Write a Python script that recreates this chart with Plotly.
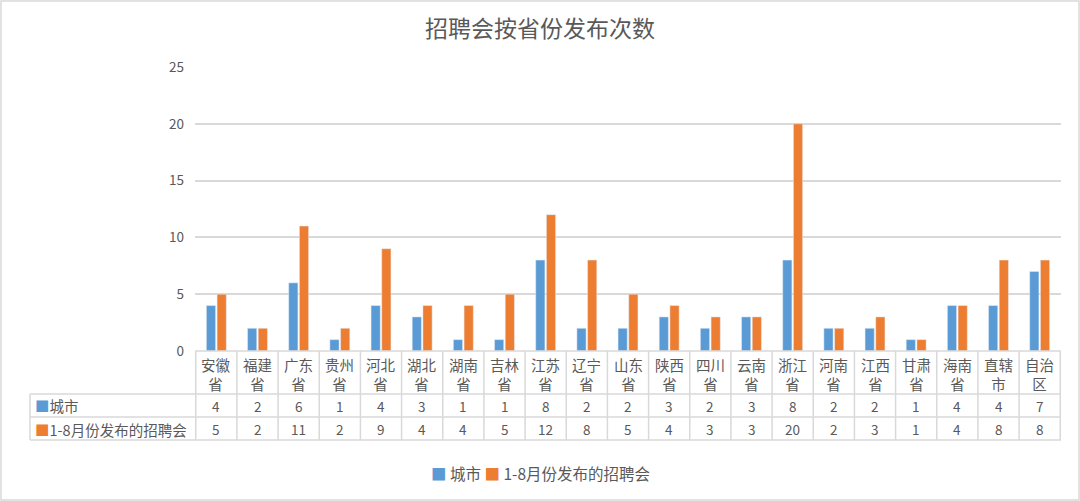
import plotly.graph_objects as go

categories = ["安徽省", "福建省", "广东省", "贵州省", "河北省", "湖北省", "湖南省", "吉林省",
              "江苏省", "辽宁省", "山东省", "陕西省", "四川省", "云南省", "浙江省", "河南省",
              "江西省", "甘肃省", "海南省", "直辖市", "自治区"]
cities = [4, 2, 6, 1, 4, 3, 1, 1, 8, 2, 2, 3, 2, 3, 8, 2, 2, 1, 4, 4, 7]
fairs = [5, 2, 11, 2, 9, 4, 4, 5, 12, 8, 5, 4, 3, 3, 20, 2, 3, 1, 4, 8, 8]
series_names = ["城市", "1-8月份发布的招聘会"]
y_ticks = [0, 5, 10, 15, 20, 25]

BLUE = "#5B9BD5"
ORANGE = "#ED7D31"
TEXT = "#595959"
GRID = "#D9D9D9"
FONT = "Noto Sans CJK SC"

W, H = 1080, 501
px_x = lambda x: x / W
px_y = lambda y: 1 - y / H

x0, x1 = 195, 1061
y_zero, y_top = 351, 67

fig = go.Figure()
fig.add_trace(go.Bar(x=categories, y=cities, name=series_names[0], marker_color=BLUE))
fig.add_trace(go.Bar(x=categories, y=fairs, name=series_names[1], marker_color=ORANGE))

shapes = []
shapes.append(dict(type="rect", xref="paper", yref="paper", x0=px_x(1), x1=px_x(1079),
                   y0=px_y(500), y1=px_y(1), line=dict(color=GRID, width=1.5)))
for yy, xs in [(351, x0), (394, 30), (417, 30), (440, 30)]:
    shapes.append(dict(type="line", xref="paper", yref="paper", x0=px_x(xs), x1=px_x(x1),
                       y0=px_y(yy), y1=px_y(yy), line=dict(color=GRID, width=1.5)))
shapes.append(dict(type="line", xref="paper", yref="paper", x0=px_x(30), x1=px_x(30),
                   y0=px_y(394), y1=px_y(440), line=dict(color=GRID, width=1.5)))
for i in range(len(categories) + 1):
    shapes.append(dict(type="line", xref="x", yref="paper", x0=i - 0.5, x1=i - 0.5,
                       y0=px_y(440), y1=px_y(351), line=dict(color=GRID, width=1.5)))

annotations = []
for i, cat in enumerate(categories):
    annotations.append(dict(x=cat, y=px_y(373.5), xref="x", yref="paper",
                            xanchor="center", yanchor="middle",
                            text=cat[:2] + "<br>" + cat[2:], showarrow=False,
                            font=dict(size=14.5, color=TEXT, family=FONT)))
    annotations.append(dict(x=cat, y=px_y(405.7), xref="x", yref="paper",
                            xanchor="center", yanchor="middle",
                            text=str(cities[i]), showarrow=False,
                            font=dict(size=13.5, color=TEXT, family=FONT)))
    annotations.append(dict(x=cat, y=px_y(429), xref="x", yref="paper",
                            xanchor="center", yanchor="middle",
                            text=str(fairs[i]), showarrow=False,
                            font=dict(size=13.5, color=TEXT, family=FONT)))
for name, color, yy in [(series_names[0], BLUE, 405.7), (series_names[1], ORANGE, 429)]:
    annotations.append(dict(x=px_x(33), y=px_y(yy), xref="paper", yref="paper",
                            xanchor="left", yanchor="middle", showarrow=False,
                            text=f"<span style='color:{color}'>■</span>{name}",
                            font=dict(size=14.5, color=TEXT, family=FONT)))
annotations.append(dict(x=0.5, y=px_y(473), xref="paper", yref="paper",
                        xanchor="center", yanchor="middle", showarrow=False,
                        text=(f"<span style='color:{BLUE}'>■</span> {series_names[0]} "
                              f"<span style='color:{ORANGE}'>■</span> {series_names[1]}"),
                        font=dict(size=15.5, color=TEXT, family=FONT)))

fig.update_layout(
    width=W, height=H, autosize=False,
    margin=dict(l=0, r=0, t=0, b=0, pad=0),
    paper_bgcolor="white", plot_bgcolor="white",
    font=dict(family=FONT, color=TEXT),
    showlegend=False,
    title=dict(text="招聘会按省份发布次数", x=0.5, xanchor="center", y=px_y(29), yanchor="middle",
               font=dict(size=23, color=TEXT, family=FONT)),
    barmode="group", bargap=0.48, bargroupgap=0.14,
    xaxis=dict(domain=[px_x(x0), px_x(x1)], showticklabels=False, showgrid=False,
               zeroline=False, showline=False, ticks="", automargin=False),
    yaxis=dict(domain=[px_y(y_zero), px_y(y_top)], range=[0, 25], tickvals=y_ticks,
               showgrid=True, gridcolor=GRID, gridwidth=1.5, zeroline=False, showline=False,
               tickfont=dict(size=13.5, color=TEXT, family=FONT), ticklabelstandoff=10,
               automargin=False),
    shapes=shapes,
    annotations=annotations,
)

fig.write_html("out.html", config={"responsive": False, "displayModeBar": False},
               post_script="document.body.style.margin='0';document.body.style.overflow='hidden';")
